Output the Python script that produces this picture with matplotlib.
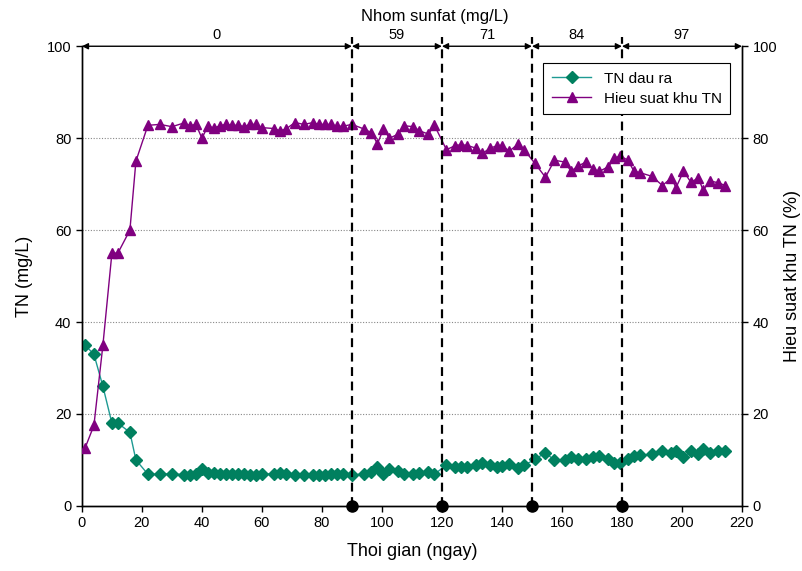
import matplotlib.pyplot as plt

plt.rcParams["font.family"] = ["Liberation Sans", "DejaVu Sans"]

# Days and measured series
days = [1, 4, 7, 10, 12, 16, 18, 22, 26, 30, 34, 36, 38, 40, 42, 44, 46, 48,
        50, 52, 54, 56, 58, 60, 64, 66, 68, 71, 74, 77, 79, 81, 83, 85, 87,
        90, 94, 96.5, 98.5, 100.5, 102.5, 105.5, 107.5, 110.5, 112.5, 115.5,
        117.5, 121.5, 124.5, 126.5, 128.5, 131.5, 133.5, 136, 138.5, 140,
        142.5, 145.5, 147.5, 151, 154.5, 157.5, 161, 163, 165.5, 168, 170.5,
        172.5, 175.5, 177.5, 179.5, 182, 184, 186, 190, 193.5, 196.5, 198,
        200.5, 203, 205.5, 207, 209.5, 212, 214.5]

tn_out = [35, 33, 26, 18, 18, 16, 10, 6.9, 6.9, 7.0, 6.8, 6.8, 6.9, 8.0, 7.2,
          7.1, 7.0, 7.0, 6.9, 6.9, 6.9, 6.8, 6.8, 6.9, 7.0, 7.1, 7.0, 6.7, 6.8,
          6.7, 6.8, 6.8, 7.0, 7.0, 7.0,
          6.7, 7.0, 7.4, 8.5, 7.0, 8.1, 7.5, 7.0, 7.0, 7.2, 7.4, 6.9,
          8.9, 8.4, 8.4, 8.4, 8.9, 9.4, 8.9, 8.4, 8.6, 9.1, 8.3, 8.9,
          10.1, 11.6, 9.9, 10.0, 10.6, 10.3, 10.1, 10.6, 10.8, 10.3, 9.4, 9.4,
          10.1, 10.8, 11.1, 11.2, 11.9, 11.6, 12.0, 10.6, 11.9, 11.4, 12.3,
          11.6, 11.9, 11.9]

efficiency = [12.5, 17.5, 35, 55, 55, 60, 75, 82.8, 83, 82.5, 83.3, 82.7, 83,
              80, 82.6, 82.2, 82.7, 83, 82.8, 82.8, 82.5, 83, 83, 82.3, 82.1,
              81.6, 82, 83.4, 83, 83.4, 83, 83, 83, 82.6, 82.6,
              83, 82, 81.2, 78.8, 82, 80, 80.9, 82.7, 82.5, 81.6, 80.9, 82.8,
              77.5, 78.4, 78.6, 78.4, 77.8, 76.7, 77.8, 78.4, 78.4, 77.2, 78.8,
              77.4,
              74.5, 71.5, 75.2, 74.8, 72.8, 74, 74.8, 73.2, 72.8, 73.8, 75.7,
              76.1,
              75.2, 72.8, 72.5, 71.7, 69.7, 71.4, 69.2, 72.8, 70.4, 71.4, 68.7,
              70.7, 70.3, 69.7]

# Aluminium sulfate dose periods
phase_edges = [0, 90, 120, 150, 180, 220]
phase_doses = ["0", "59", "71", "84", "97"]

green = "#00805F"
green_line = "#1E9A93"
purple = "#800080"

fig = plt.figure(figsize=(8.03, 5.71), dpi=100)
ax = fig.add_axes([0.102, 0.114, 0.822, 0.805])
ax2 = ax.twinx()

ax.set_xlim(0, 220)
ax.set_ylim(0, 100)
ax2.set_ylim(0, 100)
ax.set_xticks(range(0, 221, 20))
ax.set_yticks(range(0, 101, 20))
ax2.set_yticks(range(0, 101, 20))

for a in (ax, ax2):
    a.tick_params(direction="out", length=4, labelsize=10.5, width=1)
    a.spines["top"].set_visible(False)
    for s in ("left", "right", "bottom"):
        a.spines[s].set_linewidth(1.0)

# dotted grid
for g in range(20, 100, 20):
    ax.axhline(g, color="#888888", linestyle=(0, (1, 1.5)), linewidth=0.8,
               zorder=0)

l1, = ax.plot(days, tn_out, color=green_line, linewidth=1.0, marker="D",
              markersize=6, markerfacecolor=green, markeredgecolor=green,
              label="TN dau ra", zorder=3)
l2, = ax2.plot(days, efficiency, color=purple, linewidth=1.0, marker="^",
               markersize=6.5, markerfacecolor=purple, markeredgecolor=purple,
               label="Hieu suat khu TN", zorder=3)

# phase boundaries
for x in phase_edges[1:-1]:
    ax2.plot([x, x], [0, 102], color="black", linestyle=(0, (4, 2.5)),
             linewidth=1.6, clip_on=False, zorder=4)
    ax2.plot(x, 0, "o", color="black", markersize=8, clip_on=False, zorder=5)

# dose arrows on top
for i, dose in enumerate(phase_doses):
    x0, x1 = phase_edges[i], phase_edges[i + 1]
    ax2.annotate("", xy=(x1, 100), xytext=(x0, 100),
                 arrowprops=dict(arrowstyle="<|-|>", color="black", lw=1.0,
                                 mutation_scale=9, shrinkA=0, shrinkB=0),
                 annotation_clip=False)
    ax2.text((x0 + x1) / 2, 101, dose, ha="center", va="bottom", fontsize=10.5,
             clip_on=False)

ax2.text(117.5, 106.5, "Nhom sunfat (mg/L)", ha="center", va="center",
         fontsize=12, clip_on=False)

ax.set_xlabel("Thoi gian (ngay)", fontsize=13, labelpad=9)
ax.set_ylabel("TN (mg/L)", fontsize=13, labelpad=10)
ax2.set_ylabel("Hieu suat khu TN (%)", fontsize=13, labelpad=5)

leg = ax2.legend(handles=[l1, l2], loc="upper right",
                 bbox_to_anchor=(0.982, 0.963), borderaxespad=0,
                 fontsize=11, frameon=True, fancybox=False,
                 edgecolor="black", framealpha=1, handlelength=2.6,
                 borderpad=0.55, labelspacing=0.4)
leg.get_frame().set_linewidth(0.8)

fig.savefig("out.png", dpi=100)
